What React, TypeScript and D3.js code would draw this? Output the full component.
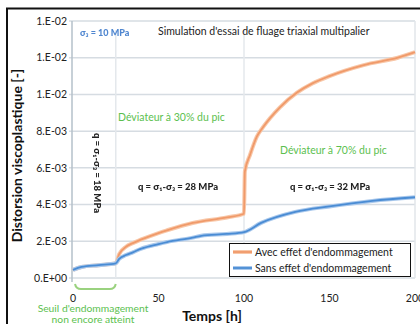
import * as d3 from "d3";

// time axis [h] and viscoplastic distortion [-]
const timesWith = [0, 5, 15, 25, 27, 31, 35, 40, 50, 55, 70, 90, 100, 100.5, 103.5, 107.5, 111, 121, 131, 140, 150, 170, 190, 200];
const avecEndo = [0.00044, 0.0006, 0.0007, 0.0008, 0.0013, 0.0017, 0.0019, 0.0021, 0.00245, 0.0026, 0.0030, 0.0033, 0.0035, 0.0058, 0.0067, 0.0077, 0.0082, 0.0093, 0.0101, 0.0106, 0.0110, 0.0116, 0.0120, 0.0123];
const timesWithout = [0, 5, 15, 25, 27, 31, 35, 40, 50, 55, 70, 75, 90, 100, 110, 130, 150, 175, 200];
const sansEndo = [0.00044, 0.0006, 0.0007, 0.0008, 0.00104, 0.00125, 0.0014, 0.0016, 0.00185, 0.00196, 0.0022, 0.0023, 0.0024, 0.0025, 0.0030, 0.0036, 0.0039, 0.0042, 0.0044];

const xTicks = [0, 50, 100, 150, 200];
const yTicks = [0, 0.002, 0.004, 0.006, 0.008, 0.01, 0.012, 0.014];
const legendLabels = ["Avec effet d'endommagement", "Sans effet d'endommagement"];
const phaseLines = [25, 100];

const W = 420;
const H = 324;
const font = "Lato, 'Open Sans', sans-serif";
const orange = "#f09a6a";
const blue = "#4a8cd4";
const green = "#5cbf4f";

// Excel style "0.E+00"
function sci(v: number) {
  if (v === 0) return "0.E+00";
  const e = Math.floor(Math.log10(v) + 1e-9);
  const m = Math.floor(v / Math.pow(10, e) + 1e-9);
  const sign = e < 0 ? "-" : "+";
  return `${m}.E${sign}${String(Math.abs(e)).padStart(2, "0")}`;
}

export default function App() {
  const x = d3.scaleLinear().domain([0, 200]).range([73, 415]);
  const y = d3.scaleLinear().domain([0, 0.014]).range([278, 21]);

  const line = (ts: number[], vs: number[]) =>
    d3
      .line<number>()
      .x((i) => x(ts[i]))
      .y((i) => y(vs[i]))
      .curve(d3.curveMonotoneX)(ts.map((_, i) => i)) ?? "";

  const pathAvec = line(timesWith, avecEndo);
  const pathSans = line(timesWithout, sansEndo);

  return (
    <svg
      width={W}
      height={H}
      style={{ position: "absolute", left: 0, top: 0, background: "#fff" }}
      fontFamily={font}
    >
      <defs>
        <filter id="soft" x="-10%" y="-50%" width="120%" height="200%">
          <feGaussianBlur stdDeviation="0.4" />
        </filter>
      </defs>
      <rect x={7} y={8.5} width={W + 10} height={H + 10} fill="#fff" stroke="#111" strokeWidth={2} />

      {/* grid */}
      {yTicks.map((t) => (
        <line key={t} x1={x(0) - 4} x2={x(200)} y1={y(t)} y2={y(t)} stroke="#d6dce2" strokeWidth={1.5} />
      ))}
      {phaseLines.map((t) => (
        <line key={t} x1={x(t)} x2={x(t)} y1={y(0.0135)} y2={y(0)} stroke="#e4e8ec" strokeWidth={1.5} />
      ))}
      <line x1={x(0) - 1} x2={x(0) - 1} y1={y(0.014)} y2={y(0) + 4} stroke="#b4c0ca" strokeWidth={1.5} />
      <line x1={x(200)} x2={x(200)} y1={y(0.014)} y2={y(0)} stroke="#e2e6ea" strokeWidth={1.5} />

      {yTicks.map((t) => (
        <text key={t} x={67} y={y(t)} dy="0.35em" textAnchor="end" fontSize={10.5} fill="#222">
          {sci(t)}
        </text>
      ))}
      {xTicks.map((t) => (
        <text key={t} x={x(t)} y={302} textAnchor="middle" fontSize={10.5} fill="#222">
          {t}
        </text>
      ))}

      {/* curves */}
      <path d={pathAvec} fill="none" stroke="#f8c7a8" strokeWidth={4} strokeLinejoin="round" />
      <path d={pathAvec} fill="none" stroke={orange} strokeWidth={1.8} strokeLinejoin="round" />
      <path d={pathSans} fill="none" stroke="#a9c8ec" strokeWidth={4} strokeLinejoin="round" />
      <path d={pathSans} fill="none" stroke={blue} strokeWidth={1.8} strokeLinejoin="round" />

      {/* titles */}
      <text x={158} y={35} fontSize={10.5} fill="#222">
        Simulation d'essai de fluage triaxial multipalier
      </text>
      <text x={212} y={321} textAnchor="middle" fontSize={14} fontWeight="bold" fill="#111">
        Temps [h]
      </text>
      <text
        transform={`translate(22,${(y(0) + y(0.014)) / 2 + 6}) rotate(-90)`}
        textAnchor="middle"
        fontSize={14}
        fontWeight="bold"
        fill="#111"
      >
        Distorsion viscoplastique [-]
      </text>

      {/* annotations */}
      <text x={118} y={121} fontSize={10.5} fill={green}>Déviateur à 30% du pic</text>
      <text x={280} y={154} fontSize={10.5} fill={green}>Déviateur à 70% du pic</text>
      <text x={93} y={312} textAnchor="middle" fontSize={10.3} fill={green}>Seuil d'endommagement</text>
      <text x={93} y={322.5} textAnchor="middle" fontSize={10.3} fill={green}>non encore atteint</text>
      <path
        d={`M${x(0) + 2},${y(0) + 6} Q${x(0) + 3},${y(0) + 11} ${x(0) + 8},${y(0) + 11} L${x(25) - 6},${y(0) + 11} Q${x(25) - 1},${y(0) + 11} ${x(25)},${y(0) + 6}`}
        fill="none"
        stroke="#9ad27f"
        strokeWidth={2}
      />

      <g filter="url(#soft)" fontWeight="900">
        <text x={80} y={36} fontSize={9} fill="#4f86d0">σ₃ = 10 MPa</text>
        <text x={178} y={190} textAnchor="middle" fontSize={9.5} fill="#222">q = σ₁-σ₃ = 28 MPa</text>
        <text x={330} y={190} textAnchor="middle" fontSize={9.5} fill="#222">q = σ₁-σ₃ = 32 MPa</text>
        <text transform="translate(97,173) rotate(90)" textAnchor="middle" dy="0.35em" fontSize={9.5} fill="#222">
          q = σ₁-σ₃ = 18 MPa
        </text>
      </g>

      {/* legend */}
      <rect x={229.5} y={243.5} width={181} height={33} fill="#fff" stroke="#111" strokeWidth={1} />
      {legendLabels.map((lab, i) => (
        <g key={lab} transform={`translate(233,${252 + i * 16})`}>
          <line x1={0} x2={19} y1={0} y2={0} stroke={i === 0 ? "#f8c7a8" : "#a9c8ec"} strokeWidth={4} />
          <line x1={0} x2={19} y1={0} y2={0} stroke={i === 0 ? orange : blue} strokeWidth={1.8} />
          <text x={22} y={0} dy="0.35em" fontSize={10.5} fill="#222">{lab}</text>
        </g>
      ))}
    </svg>
  );
}
